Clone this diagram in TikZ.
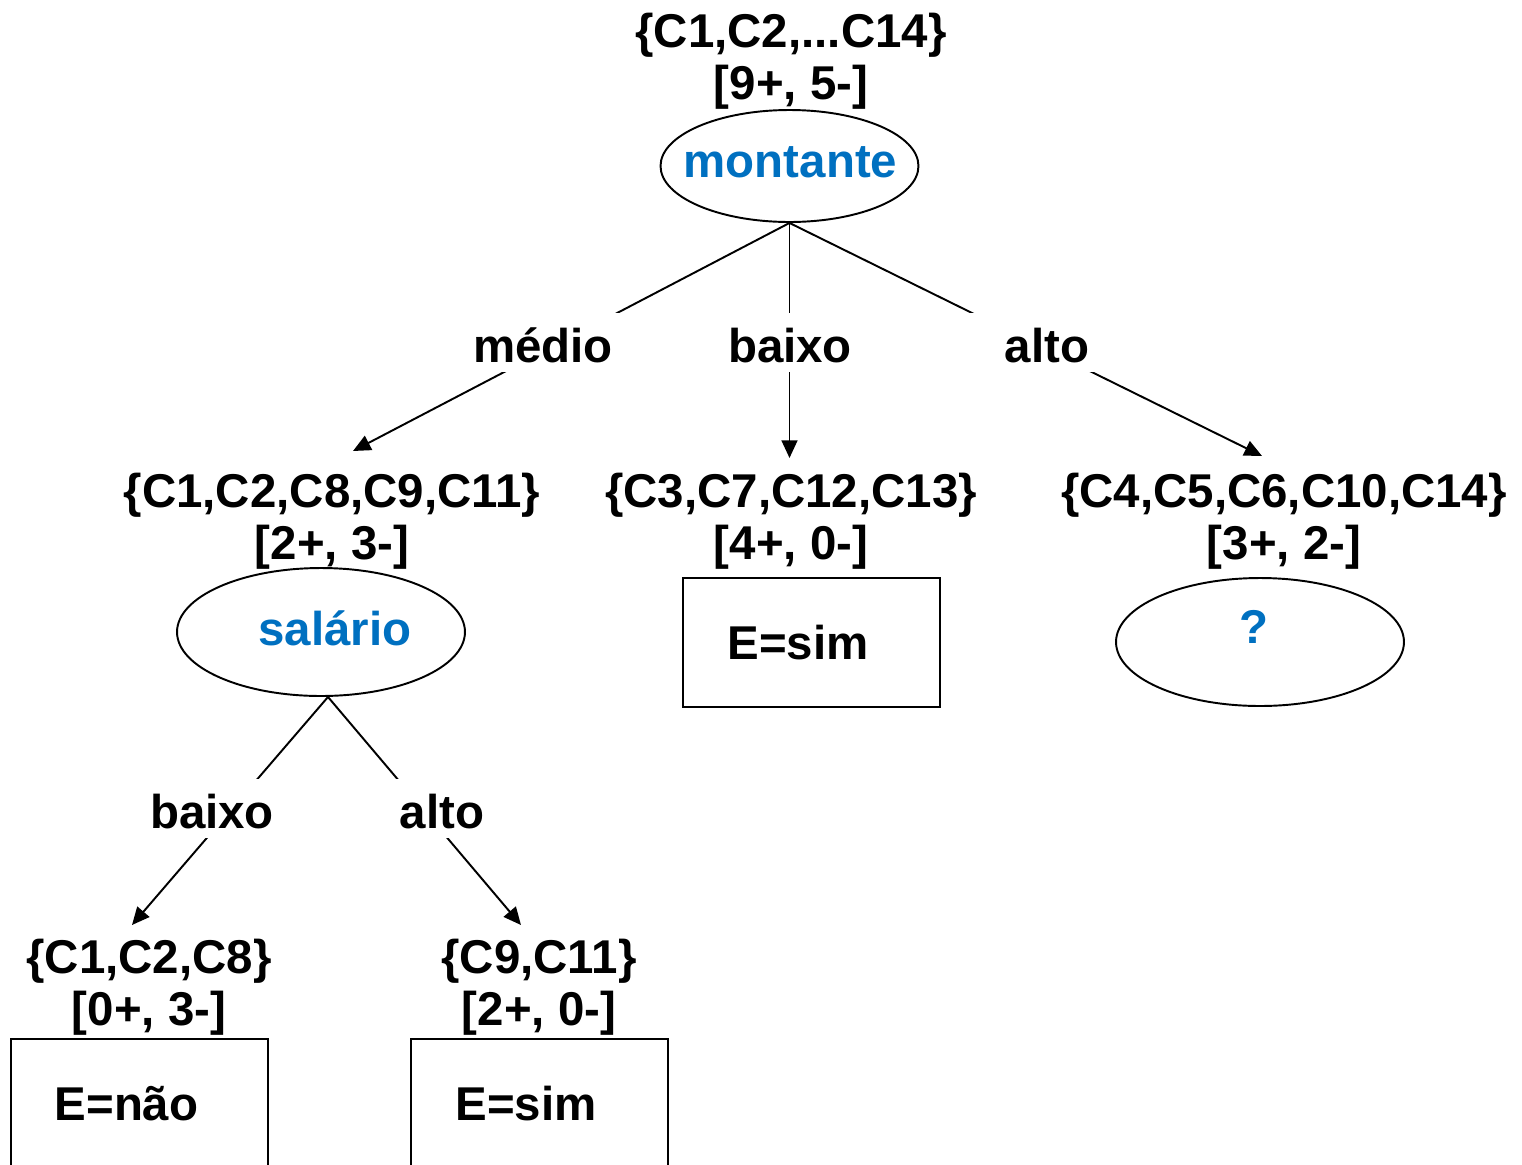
\documentclass[tikz,border=0pt]{standalone}
\usepackage{fontspec}
\setmainfont{Liberation Sans}
\usetikzlibrary{arrows.meta,shapes.geometric,calc}
\definecolor{attrblue}{RGB}{0,112,192}

\begin{document}
\begin{tikzpicture}[x=0.02cm,y=-0.02cm,
  every node/.style={font=\fontsize{27}{29.6}\selectfont\bfseries},
  set/.style={align=center, inner sep=0pt},
  test/.style={ellipse, draw, line width=1.1pt, inner sep=0pt,
               minimum width=5.76cm, minimum height=2.56cm},
  leaf/.style={rectangle, draw, line width=1.1pt, inner sep=0pt,
               minimum width=5.14cm, minimum height=2.58cm},
  branch/.style={fill=white, inner sep=0pt, minimum width=4cm,
                 minimum height=1.18cm, text height=23.2pt, text depth=0pt},
  edge/.style={line width=1.1pt},
  arr/.style={edge, -{Triangle[length=10pt,width=9pt]}}
]
\useasboundingbox (0,0) rectangle (1522,1164);

% root test
\node[set] (s0) at (791,61) {\{C1,C2,...C14\}\\{}[9+, 5-]};
\node[test, minimum width=5.16cm, minimum height=2.24cm,
      label={[attrblue, xshift=0.02cm, yshift=0.08cm]center:montante}]
      (montante) at (789.5,166) {};

% second level
\node[set] (sA) at (332,521) {\{C1,C2,C8,C9,C11\}\\{}[2+, 3-]};
\node[set] (sB) at (791,521) {\{C3,C7,C12,C13\}\\{}[4+, 0-]};
\node[set] (sC) at (1284,521) {\{C4,C5,C6,C10,C14\}\\{}[3+, 2-]};

\node[test, label={[attrblue, xshift=0.28cm, yshift=0.08cm]center:salário}]
      (salario) at (321,632) {};
\node[leaf, label={[xshift=-0.27cm]center:E=sim}] (leafB) at (811.5,642.5) {};
\node[test, label={[attrblue, xshift=-0.12cm, yshift=0.3cm]center:?}]
      (open) at (1260,642) {};

% third level
\node[set] (sAA) at (149,987) {\{C1,C2,C8\}\\{}[0+, 3-]};
\node[set] (sAB) at (539,987) {\{C9,C11\}\\{}[2+, 0-]};
\node[leaf, label={[xshift=-0.26cm]center:E=não}] (leafAA) at (139.5,1103.5) {};
\node[leaf, label={[xshift=-0.27cm]center:E=sim}] (leafAB) at (539.5,1103.5) {};

% arrow tips just above the subsets
\coordinate (tA) at (353,451);
\coordinate (tB) at (789.5,458);
\coordinate (tC) at (1262,456);
\coordinate (tAA) at (132,925);
\coordinate (tAB) at (521,925);
\coordinate (sal) at ($(salario.south)+(7,0)$);

% branches
\draw[arr] (montante.south) -- (tA);
\draw[arr] (montante.south) -- (tB);
\draw[arr] (montante.south) -- (tC);
\draw[arr] (sal) -- (tAA);
\draw[arr] (sal) -- (tAB);

% branch values, drawn over the lines
\node[branch] (medio) at (543,342.5) {médio};
\node[branch] (baixo) at (790,342.5) {baixo};
\node[branch] (alto) at (1047,342.5) {alto};
\node[branch] (sbaixo) at (212,808.5) {baixo};
\node[branch] (salto) at (442,808.5) {alto};
\end{tikzpicture}
\end{document}
